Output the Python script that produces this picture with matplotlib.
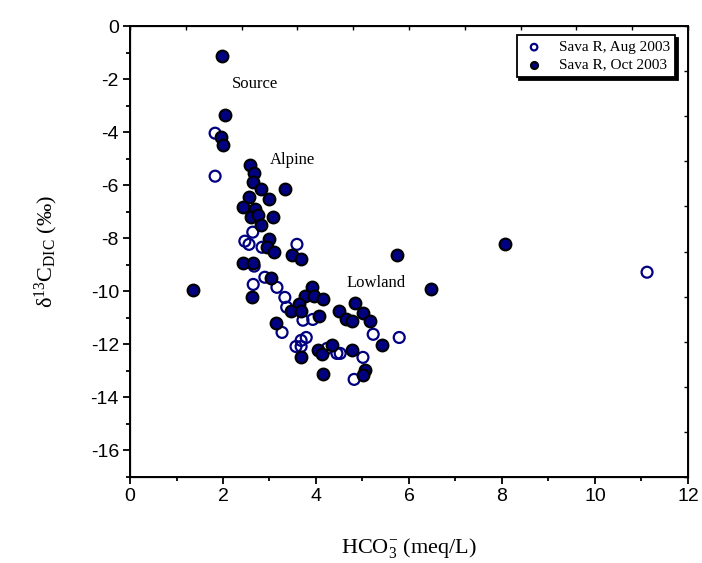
import numpy as np
import matplotlib
matplotlib.use('Agg')
import matplotlib.pyplot as plt

# Sava R, Aug 2003 (open symbols)
aug_x = [1.83, 1.83, 2.64, 2.47, 2.56, 2.84, 3.59, 2.67, 2.90, 2.65, 3.16, 3.33,
         3.37, 3.72, 3.93, 3.27, 3.79, 3.68, 3.57, 3.68, 4.24, 4.45, 4.52, 5.23,
         5.79, 5.01, 4.82, 11.12]
aug_y = [-4.04, -5.66, -7.77, -8.11, -8.23, -8.34, -8.23, -9.05, -9.47, -9.74,
         -9.85, -10.23, -10.60, -11.09, -11.06, -11.55, -11.74, -11.85, -12.08,
         -12.08, -12.15, -12.34, -12.34, -11.62, -11.74, -12.49, -13.32, -9.28]

# Sava R, Oct 2003 (filled symbols)
oct_x = [1.98, 2.04, 1.96, 1.99, 2.59, 2.67, 2.65, 2.82, 3.33, 2.56, 2.99, 2.43,
         2.69, 2.60, 2.75, 3.08, 2.82, 2.99, 2.94, 3.10, 3.48, 3.68, 2.43, 2.65,
         3.03, 2.62, 3.91, 3.76, 3.96, 4.15, 4.84, 3.63, 3.46, 3.68, 4.49, 5.01,
         4.06, 4.65, 4.77, 5.16, 3.14, 5.42, 4.34, 4.04, 4.13, 4.77, 3.68, 5.05,
         5.01, 4.15, 5.74, 8.06, 6.47, 1.36]
oct_y = [-1.13, -3.36, -4.20, -4.50, -5.25, -5.55, -5.89, -6.16, -6.16, -6.45,
         -6.53, -6.83, -6.91, -7.21, -7.13, -7.21, -7.51, -8.04, -8.34, -8.53,
         -8.64, -8.79, -8.94, -8.94, -9.50, -10.23, -9.85, -10.19, -10.19, -10.30,
         -10.45, -10.49, -10.75, -10.75, -10.75, -10.83, -10.94, -11.06, -11.13,
         -11.13, -11.21, -12.04, -12.04, -12.23, -12.38, -12.23, -12.49, -12.98,
         -13.17, -13.13, -8.64, -8.23, -9.92, -9.96]

region_labels = ['Source', 'Alpine', 'Lowland']
region_x = [2.2, 3.0, 4.65]
region_y = [-2.2, -5.05, -9.7]

plt.rcParams['mathtext.fontset'] = 'custom'
plt.rcParams['mathtext.rm'] = 'Liberation Serif'
plt.rcParams['mathtext.it'] = 'Liberation Serif:italic'
plt.rcParams['axes.unicode_minus'] = False
serif = 'Liberation Serif'
sans = 'Liberation Sans'

fig = plt.figure(figsize=(7.02, 5.63), dpi=100)
ax = fig.add_axes([0.1852, 0.1527, 0.7948, 0.8011])

ax.scatter(aug_x, aug_y, s=62, facecolors='none', edgecolors='#000080',
           linewidths=1.6, label='Sava R, Aug 2003', zorder=3)
ax.scatter(oct_x, oct_y, s=72, facecolors='#000080', edgecolors='black',
           linewidths=1.5, label='Sava R, Oct 2003', zorder=4)

for t, x, y in zip(region_labels, region_x, region_y):
    ax.text(x, y, t, fontsize=12, family=serif, ha='left', va='center')

ax.set_xlim(0, 12)
ax.set_ylim(-17, 0)
ax.set_xticks(np.arange(0, 13, 2))
ax.set_xticks(np.arange(0, 13, 1), minor=True)
ax.set_yticks(np.arange(-16, 1, 2))
ax.set_yticks(np.arange(-17, 1, 1), minor=True)
ax.tick_params(which='major', direction='out', length=5, width=1.3,
               labelsize=14, pad=3)
ax.tick_params(which='minor', direction='out', length=3, width=1.3)
for lab in ax.get_xticklabels() + ax.get_yticklabels():
    lab.set_family(sans)
for s in ax.spines.values():
    s.set_linewidth(1.4)

# top and right layer ticks (ten equal divisions)
axt = ax.twiny()
axt.set_xlim(0, 1)
axt.set_xticks(np.linspace(0, 1, 11))
axt.tick_params(axis='x', direction='in', length=3, width=1.0, labeltop=False)
axr = ax.twinx()
axr.set_ylim(0, 1)
axr.set_yticks(np.linspace(0, 1, 11))
axr.tick_params(axis='y', direction='in', length=3, width=1.0, labelright=False)

ax.set_xlabel(r'$\mathrm{HCO_3^{-}}$ (meq/L)', family=serif, fontsize=16,
              labelpad=22)
ax.set_ylabel(r'$\mathrm{\delta^{13}C_{DIC}}$ (‰)', family=serif, fontsize=16,
              labelpad=22)

leg = ax.legend(loc='upper right', bbox_to_anchor=(0.985, 0.99), frameon=True,
                fancybox=False, shadow={'color': 'black', 'alpha': 1},
                prop={'family': serif, 'size': 11}, handletextpad=0.8,
                borderpad=0.35, labelspacing=0.25, markerscale=0.6,
                borderaxespad=0.3, handlelength=1.6)
leg.get_frame().set_edgecolor('black')
leg.get_frame().set_linewidth(1.3)
leg.set_zorder(10)

fig.savefig('out.png', dpi=100)
